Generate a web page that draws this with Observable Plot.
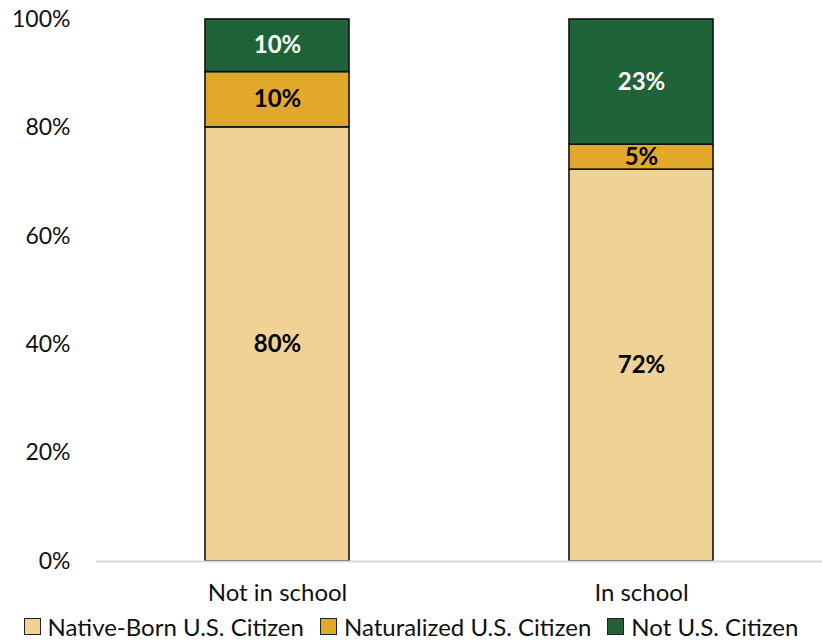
<!DOCTYPE html>
<html><head><meta charset="utf-8">
<script src="https://cdn.jsdelivr.net/npm/d3@7"></script>
<script src="https://cdn.jsdelivr.net/npm/@observablehq/plot@0.6"></script>
<style>
body{margin:0;background:#fff;font-family:Lato,"Noto Sans",sans-serif;color:#111}
#chart{width:822px}
.legend{display:flex;justify-content:center;align-items:center;font-size:24px;height:32px;margin-top:0;white-space:nowrap}
.legend .item{display:flex;align-items:center;margin:0 8px}
.legend .sw{width:15px;height:15px;border:1px solid #222;margin-right:7px;display:inline-block}
</style></head><body><div id="chart"></div><script>
const groups = ["Not in school", "In school"];
const series = ["Native-Born U.S. Citizen", "Naturalized U.S. Citizen", "Not U.S. Citizen"];
const nativeBorn = [80.1, 72.3];
const naturalized = [10.2, 4.6];
const notCitizen = [9.7, 23.1];
const colors = ["#F0D296", "#E2A82C", "#1F6439"];
const labelColors = ["#000", "#000", "#fff"];
const yTicks = [0, 20, 40, 60, 80, 100];

const seriesValues = [nativeBorn, naturalized, notCitizen];
const data = [];
groups.forEach((g, i) => series.forEach((s, j) => data.push({group: g, series: s, value: seriesValues[j][i], si: j})));

const plot = Plot.plot({
  width: 822, height: 610,
  marginTop: 19, marginBottom: 49, marginLeft: 96, marginRight: 0,
  style: {fontFamily: "Lato, 'Noto Sans', sans-serif", fontSize: "23px", color: "#111", background: "#fff"},
  x: {domain: groups, paddingInner: 0.604, paddingOuter: 0.299, label: null},
  y: {domain: [0, 100], label: null},
  color: {domain: series, range: colors},
  marks: [
    Plot.barY(data, {x: "group", y: "value", fill: "series", stroke: "#111", strokeWidth: 1.6}),
    Plot.ruleY([0], {stroke: "#D9D9D9", strokeWidth: 2}),
    Plot.text(data, Plot.stackY({x: "group", y: "value", text: d => Math.round(d.value) + "%", fill: d => labelColors[d.si], fontWeight: "bold", fontSize: 24})),
    Plot.axisY({ticks: yTicks, tickSize: 0, tickPadding: 26, tickFormat: d => d + "%", label: null, fontSize: 23}),
    Plot.axisX({tickSize: 0, tickPadding: 22, label: null, fontSize: 24})
  ]
});
const chart = document.getElementById("chart");
chart.appendChild(plot);
const legend = document.createElement("div");
legend.className = "legend";
series.forEach((s, j) => {
  const it = document.createElement("span"); it.className = "item";
  const sw = document.createElement("span"); sw.className = "sw"; sw.style.background = colors[j];
  it.appendChild(sw); it.appendChild(document.createTextNode(s));
  legend.appendChild(it);
});
chart.appendChild(legend);
</script></body></html>
